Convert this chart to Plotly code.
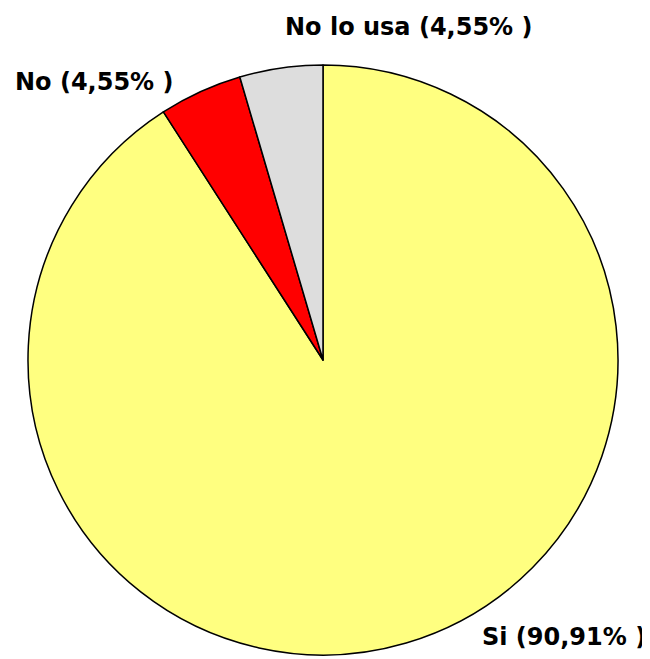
import plotly.graph_objects as go

labels = ["Si", "No", "No lo usa"]
values = [90.91, 4.55, 4.55]
colors = ["#FFFF80", "#FF0000", "#DDDDDD"]
label_texts = ["Si (90,91% )", "No (4,55% )", "No lo usa (4,55% )"]

W, H = 650, 659
OFF = 8  # default page body margin

cx, cy, r = 323 - OFF, 360 - OFF, 295
fig = go.Figure(go.Pie(
    labels=labels, values=values, sort=False, direction="clockwise", rotation=0,
    marker=dict(colors=colors, line=dict(color="black", width=1.5)),
    textinfo="none", hoverinfo="label+percent", showlegend=False,
    domain=dict(x=[(cx - r) / W, (cx + r) / W], y=[(H - cy - r) / H, (H - cy + r) / H]),
))

font = dict(family="DejaVu Sans", size=24, color="black")
# (left x, cap-center y) in screen pixels
positions = [(480, 637), (13, 82), (283, 27)]
for t, (px, py) in zip(label_texts, positions):
    fig.add_annotation(text=f"<b>{t}</b>", x=(px - OFF) / W, y=1 - (py - OFF) / H,
                       xref="paper", yref="paper", showarrow=False, font=font,
                       xanchor="left", yanchor="middle")

fig.update_layout(width=W, height=H, margin=dict(l=0, r=0, t=0, b=0),
                  paper_bgcolor="white", plot_bgcolor="white")
fig.write_html("out.html")
